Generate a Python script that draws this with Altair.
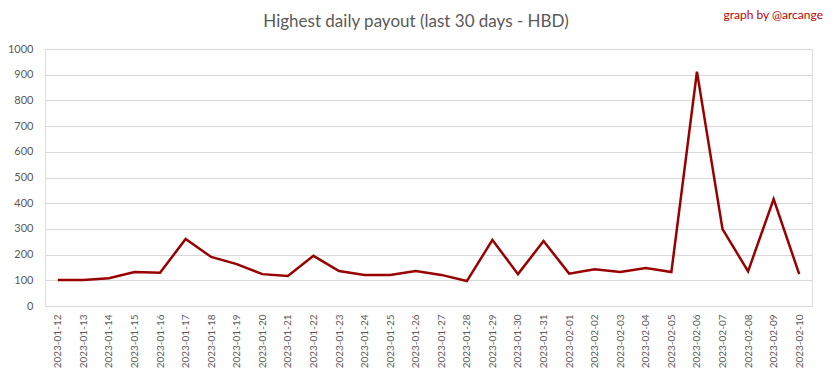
import altair as alt
import pandas as pd

dates = ["2023-01-12", "2023-01-13", "2023-01-14", "2023-01-15", "2023-01-16",
         "2023-01-17", "2023-01-18", "2023-01-19", "2023-01-20", "2023-01-21",
         "2023-01-22", "2023-01-23", "2023-01-24", "2023-01-25", "2023-01-26",
         "2023-01-27", "2023-01-28", "2023-01-29", "2023-01-30", "2023-01-31",
         "2023-02-01", "2023-02-02", "2023-02-03", "2023-02-04", "2023-02-05",
         "2023-02-06", "2023-02-07", "2023-02-08", "2023-02-09", "2023-02-10"]
payouts = [101, 101, 108, 132, 129, 261, 191, 163, 124, 117,
           195, 136, 121, 121, 136, 121, 97, 257, 124, 253,
           126, 143, 132, 148, 132, 912, 299, 135, 416, 124]
y_ticks = [0, 100, 200, 300, 400, 500, 600, 700, 800, 900, 1000]
title_text = "Highest daily payout (last 30 days - HBD)"
credit_text = "graph by @arcange"

df = pd.DataFrame({"date": dates, "payout": payouts})

FONT = "Lato"
GREY = "#595959"

line = alt.Chart(df).mark_line(color="#990000", strokeWidth=2.5).encode(
    x=alt.X("date:O", sort=dates,
            scale=alt.Scale(type="point", padding=0.5),
            axis=alt.Axis(title=None, labelAngle=-90, ticks=False,
                          domainColor="#d9d9d9", labelColor=GREY,
                          labelFont=FONT, labelFontSize=10, labelPadding=8)),
    y=alt.Y("payout:Q", scale=alt.Scale(domain=[0, 1000], nice=False),
            axis=alt.Axis(title=None, values=y_ticks, format="d",
                          domain=False, ticks=False,
                          gridColor="#d9d9d9", labelColor=GREY,
                          labelFont=FONT, labelFontSize=11, labelPadding=12)),
)

credit = alt.Chart(pd.DataFrame({"t": [credit_text]})).mark_text(
    align="right", baseline="middle", color="#c00000", font=FONT, fontSize=12
).encode(text="t:N", x=alt.value(778), y=alt.value(-34))

title = alt.Chart(pd.DataFrame({"t": [title_text]})).mark_text(
    align="center", baseline="middle", color=GREY, font=FONT, fontSize=17
).encode(text="t:N", x=alt.value(371), y=alt.value(-27))

chart = (line + credit + title).properties(
    width=767, height=257,
    autosize=alt.AutoSizeParams(type="none"),
    padding={"left": 37, "top": 41, "right": 13, "bottom": 65},
).configure_view(stroke=None).configure(background="white")

chart.save("out.html", embed_options={"renderer": "svg", "actions": False})
